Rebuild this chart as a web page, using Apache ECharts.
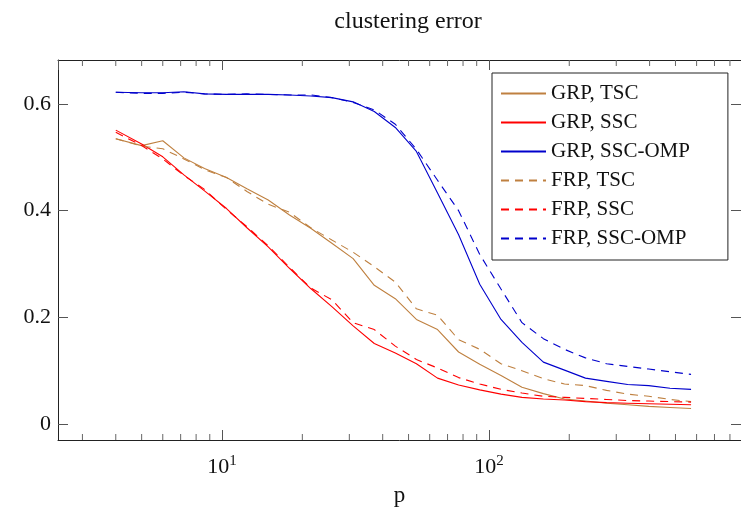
<!DOCTYPE html>
<html>
<head>
<meta charset="utf-8">
<script src="https://cdn.jsdelivr.net/npm/echarts@6/dist/echarts.min.js"></script>
<style>
  html, body { margin: 0; padding: 0; background: #fff; }
  #chart { width: 741px; height: 512px; }
</style>
</head>
<body>
<div id="chart"></div>
<script>
// p values (log x axis)
const pValues = [4, 5, 6, 7.2, 8.6, 10.4, 12.4, 14.9, 17.9, 21.5, 25.8, 31, 37.2, 44.6,
  53.5, 64.2, 77, 92.4, 111, 133, 160, 192, 230, 276, 331, 397, 477, 572]

// clustering error
const grpTsc = [0.535, 0.522, 0.531, 0.499, 0.479, 0.462, 0.441, 0.420, 0.392, 0.367, 0.339, 0.310, 0.260, 0.235,
  0.196, 0.177, 0.135, 0.112, 0.091, 0.069, 0.057, 0.047, 0.043, 0.039, 0.036, 0.033, 0.031, 0.029]
const grpSsc = [0.551, 0.525, 0.501, 0.467, 0.437, 0.404, 0.368, 0.332, 0.292, 0.254, 0.220, 0.184, 0.151, 0.133,
  0.113, 0.086, 0.073, 0.064, 0.056, 0.050, 0.047, 0.045, 0.042, 0.040, 0.039, 0.038, 0.037, 0.036]
const grpOmp = [0.622, 0.621, 0.621, 0.623, 0.619, 0.618, 0.618, 0.618, 0.617, 0.615, 0.612, 0.604, 0.586, 0.556,
  0.511, 0.433, 0.355, 0.262, 0.196, 0.153, 0.116, 0.101, 0.086, 0.080, 0.074, 0.072, 0.067, 0.065]
const frpTsc = [0.535, 0.521, 0.516, 0.497, 0.477, 0.462, 0.436, 0.412, 0.397, 0.368, 0.345, 0.322, 0.295, 0.266,
  0.216, 0.204, 0.158, 0.140, 0.113, 0.100, 0.085, 0.075, 0.072, 0.063, 0.056, 0.052, 0.046, 0.042]
const frpSsc = [0.547, 0.522, 0.497, 0.466, 0.440, 0.402, 0.370, 0.334, 0.294, 0.255, 0.233, 0.190, 0.177, 0.146,
  0.121, 0.105, 0.087, 0.075, 0.065, 0.058, 0.052, 0.050, 0.048, 0.046, 0.044, 0.043, 0.042, 0.041]
const frpOmp = [0.622, 0.620, 0.620, 0.622, 0.619, 0.618, 0.619, 0.618, 0.617, 0.617, 0.612, 0.603, 0.589, 0.562,
  0.515, 0.457, 0.400, 0.318, 0.253, 0.190, 0.160, 0.140, 0.124, 0.113, 0.108, 0.103, 0.098, 0.093]

const yTicks = [0, 0.2, 0.4, 0.6]
// minor ticks of the log axis
const minorTicks = [3, 4, 5, 6, 7, 8, 9, 20, 30, 40, 50, 60, 70, 80, 90, 200, 300, 400, 500, 600, 700, 800]

const FONT = 'Liberation Serif'
const BROWN = '#BF8040'
const RED = '#FF0000'
const BLUE = '#0000CC'

const chart = echarts.init(document.getElementById('chart'))

function makeSeries (name, values, color, dashed) {
  return {
    name: name,
    type: 'line',
    symbol: 'none',
    showSymbol: false,
    data: pValues.map((p, i) => [p, values[i]]),
    lineStyle: {
      color: color,
      width: 1.1,
      type: dashed ? [8, 6] : 'solid'
    },
    itemStyle: { color: color },
    animation: false
  }
}

const xAxisCommon = {
  type: 'log',
  logBase: 10,
  min: 2.43,
  max: 880,
  axisLine: { show: true, onZero: false, lineStyle: { color: '#222', width: 1 } },
  axisTick: { show: true, inside: true, length: 10, lineStyle: { color: '#555' } },
  splitLine: { show: false }
}

const yAxisCommon = {
  type: 'value',
  min: -0.03,
  max: 0.6825,
  axisLine: { show: true, lineStyle: { color: '#222', width: 1 } },
  axisTick: { show: true, inside: true, length: 10, customValues: yTicks, lineStyle: { color: '#555' } },
  splitLine: { show: false }
}

const option = {
  backgroundColor: '#fff',
  animation: false,
  title: {
    text: 'clustering error',
    left: 403,
    top: 5,
    textAlign: 'center',
    textStyle: { fontFamily: FONT, fontSize: 24, fontWeight: 'normal', color: '#111' }
  },
  grid: { left: 58, top: 60, width: 683, height: 380, containLabel: false },
  legend: {
    orient: 'vertical',
    left: 492,
    top: 73,
    data: ['GRP, TSC', 'GRP, SSC', 'GRP, SSC-OMP', 'FRP, TSC', 'FRP, SSC', 'FRP, SSC-OMP'],
    itemWidth: 45,
    itemHeight: 2,
    itemGap: 8,
    padding: [10, 38, 11, 8],
    borderColor: '#222',
    borderWidth: 1,
    backgroundColor: '#fff',
    itemStyle: { color: 'transparent', borderWidth: 0, opacity: 0 },
    textStyle: { fontFamily: FONT, fontSize: 21, color: '#111' }
  },
  xAxis: [
    Object.assign({}, xAxisCommon, {
      position: 'bottom',
      name: 'p',
      nameLocation: 'middle',
      nameGap: 44,
      nameTextStyle: { fontFamily: FONT, fontSize: 23, color: '#111' },
      axisLabel: {
        margin: 14,
        showMinLabel: false,
        showMaxLabel: false,
        formatter: function (v) {
          const e = Math.log10(v)
          if (Math.abs(e - Math.round(e)) > 1e-6) return ''
          return '{b|10}{s|' + Math.round(e) + '}'
        },
        rich: {
          b: { fontFamily: FONT, fontSize: 22, color: '#111' },
          s: { fontFamily: FONT, fontSize: 15, color: '#111', padding: [0, 0, 12, 0] }
        }
      }
    }),
    Object.assign({}, xAxisCommon, {
      position: 'top',
      axisLabel: { show: false }
    })
  ],
  yAxis: [
    Object.assign({}, yAxisCommon, {
      position: 'left',
      axisLabel: {
        customValues: yTicks,
        margin: 7,
        fontFamily: FONT,
        fontSize: 22,
        color: '#111',
        formatter: v => String(Math.round(v * 10) / 10)
      }
    }),
    Object.assign({}, yAxisCommon, {
      position: 'right',
      axisLabel: { show: false }
    })
  ],
  series: [
    makeSeries('GRP, TSC', grpTsc, BROWN, false),
    makeSeries('GRP, SSC', grpSsc, RED, false),
    makeSeries('GRP, SSC-OMP', grpOmp, BLUE, false),
    makeSeries('FRP, TSC', frpTsc, BROWN, true),
    makeSeries('FRP, SSC', frpSsc, RED, true),
    makeSeries('FRP, SSC-OMP', frpOmp, BLUE, true),
    {
      name: 'minor ticks',
      type: 'custom',
      silent: true,
      clip: false,
      data: minorTicks.map(t => [t, 0]),
      renderItem: function (params, api) {
        const x = api.coord([api.value(0), 0])[0]
        const cs = params.coordSys
        const style = { stroke: '#666', lineWidth: 1 }
        return {
          type: 'group',
          children: [
            { type: 'line', shape: { x1: x, y1: cs.y + cs.height, x2: x, y2: cs.y + cs.height - 6 }, style: style },
            { type: 'line', shape: { x1: x, y1: cs.y, x2: x, y2: cs.y + 6 }, style: style }
          ]
        }
      }
    }
  ]
}

chart.setOption(option)
</script>
</body>
</html>
